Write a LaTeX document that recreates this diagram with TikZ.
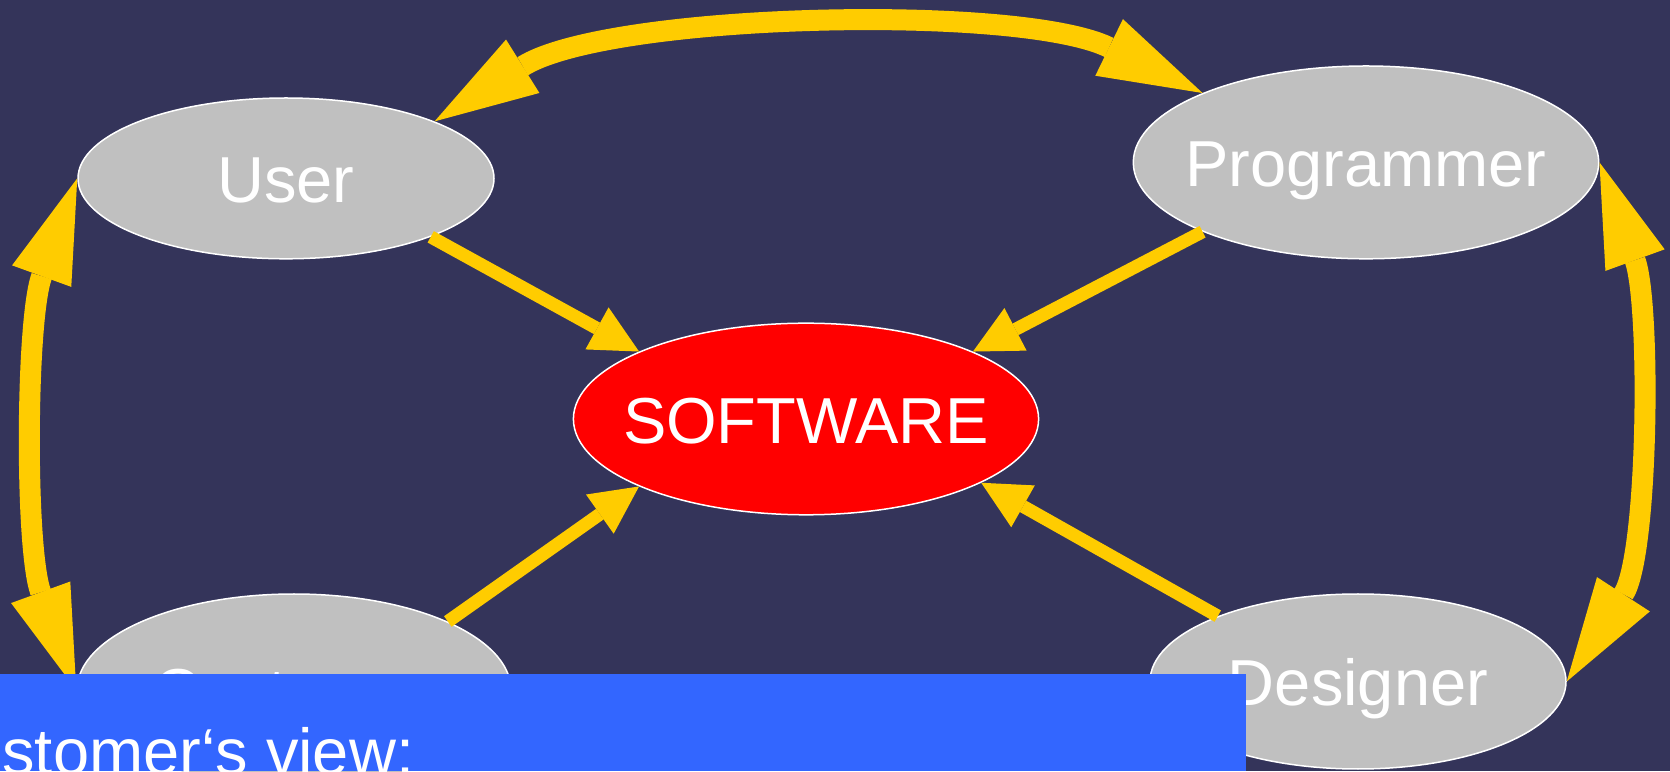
\documentclass[tikz,border=0pt]{standalone}
\usepackage{fontspec}
\setmainfont{Liberation Sans}
\usetikzlibrary{arrows.meta, shapes.geometric}
\definecolor{slate}{RGB}{52,52,90}
\definecolor{gold}{RGB}{255,204,0}
\definecolor{silver}{RGB}{192,192,192}
\definecolor{ribbon}{RGB}{51,102,255}
\tikzset{
  big/.style={font=\fontsize{32.5pt}{39pt}\selectfont,text=white},
  gn/.style={ellipse,draw=white,line width=0.75pt,fill=silver,big,inner sep=0pt,text height=24.4pt,text depth=0pt},
  rn/.style={gn,fill=red},
  ya/.style={-{Triangle[length=24pt,width=24pt,line width=0pt]},line width=6.5pt,draw=gold},
  yd/.style={{Triangle[length=52pt,width=31.5pt,line width=0pt]}-{Triangle[length=52pt,width=31.5pt,line width=0pt]},line width=10.5pt,draw=gold},
}

\begin{document}
\begin{tikzpicture}[x=0.5pt,y=0.5pt]
  \useasboundingbox (0,0) rectangle (1670,771);
  \fill[slate] (0,0) rectangle (1670,771);

  % the four roles round the product
  \node[gn,minimum width=208pt,minimum height=80.4pt] (user) at (286,592.6) {\makebox[0pt]{User}};
  \node[gn,minimum width=232.7pt,minimum height=96.4pt] (programmer) at (1366,608.6) {\makebox[0pt]{Programmer}};
  \node[gn,minimum width=217pt,minimum height=96pt] (customer) at (294,81) {\makebox[0pt]{Customer}};
  \node[gn,minimum width=208pt,minimum height=87.5pt] (designer) at (1358,89.5) {\makebox[0pt]{Designer}};
  \node[rn,minimum width=232.6pt,minimum height=95.8pt] (software) at (806,352) {\makebox[0pt]{SOFTWARE}};

  \draw[ya] (user.-22) -- (software.158);
  \draw[ya] (programmer.203) -- (software.22);
  \draw[ya] (customer.24) -- (software.202);
  \draw[ya] (designer.155) -- (software.-20);

  \draw[yd] (user.21) to[out=32,in=154,looseness=0.68] (programmer.157);
  \draw[yd] (user.west) to[out=250,in=110,looseness=0.75] (customer.west);
  \draw[yd] (programmer.east) to[out=-70,in=57,looseness=0.74] (designer.east);

  \fill[ribbon] (0,0) rectangle (1246,96.5);
  \begin{scope}
    \clip (0,0) rectangle (1246,96.5);
    \node[big,anchor=base west,inner sep=0pt] (view) at (-81,-3) {Customer‘s view:};
  \end{scope}
\end{tikzpicture}
\end{document}
